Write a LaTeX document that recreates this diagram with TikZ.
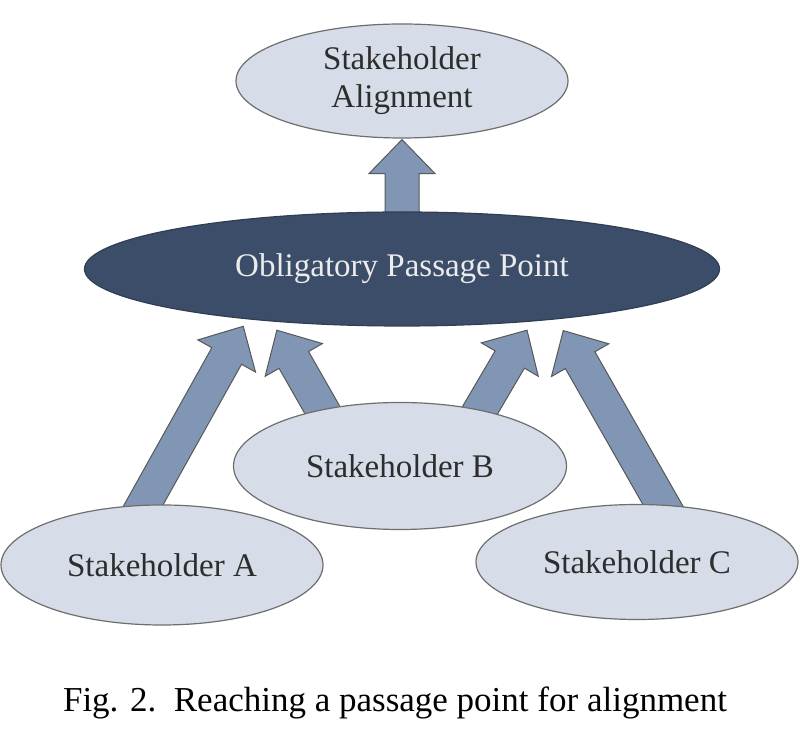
\documentclass[tikz,border=0pt]{standalone}
\usepackage{fontspec}
\setmainfont{Liberation Serif}
\usetikzlibrary{shapes.geometric,calc,backgrounds}
\definecolor{lightfill}{RGB}{214,221,232}
\definecolor{darkfill}{RGB}{59,77,104}
\definecolor{arrowfill}{RGB}{128,150,180}
\definecolor{edgegray}{RGB}{110,110,110}
\definecolor{textgray}{RGB}{45,45,45}
\tikzset{
  ell/.style={ellipse, inner sep=0pt, line width=1.2pt, draw=edgegray,
    font=\fontsize{33}{38}\selectfont, align=center},
  lnode/.style={ell, fill=lightfill, text=textgray},
  dnode/.style={ell, fill=darkfill, draw=darkfill!80!black, text=white!92!black},
  barrow/.style={fill=arrowfill, draw=edgegray!80!black, line width=1pt, line join=miter},
}
\newcommand{\blockarrow}[2]{%
  \draw[barrow] let \p1=(#1), \p2=(#2),
    \n1={atan2(\y2-\y1,\x2-\x1)}, \n2={veclen(\x2-\x1,\y2-\y1)} in
    ($(\p1)+(\n1-90:17pt)$)
    -- ($(\p1)+(\n1:\n2-34pt)+(\n1-90:17pt)$)
    -- ($(\p1)+(\n1:\n2-34pt)+(\n1-90:33pt)$)
    -- (\p2)
    -- ($(\p1)+(\n1:\n2-34pt)+(\n1+90:33pt)$)
    -- ($(\p1)+(\n1:\n2-34pt)+(\n1+90:17pt)$)
    -- ($(\p1)+(\n1+90:17pt)$) -- cycle;}
\begin{document}
\begin{tikzpicture}[x=1pt,y=1pt]
  \useasboundingbox (0,0) rectangle (800,730);

  \node[lnode, minimum width=332pt, minimum height=114pt] (SA) at (402,649) {Stakeholder\\Alignment};
  \node[dnode, minimum width=635pt, minimum height=114pt] (OPP) at (402,461) {Obligatory Passage Point};
  \node[lnode, minimum width=333pt, minimum height=127pt] (B) at (400,264) {Stakeholder B};
  \node[lnode, minimum width=322pt, minimum height=120pt] (A) at (162,165) {Stakeholder A};
  \node[lnode, minimum width=322pt, minimum height=115pt] (C) at (637,168) {Stakeholder C};

  \node[font=\fontsize{35}{40}\selectfont, text=black] (cap) at (395,27)
    {Fig. 2.\ \ Reaching a passage point for alignment};

  \begin{pgfonlayer}{background}
    \fill[white] (0,0) rectangle (800,730);
    \blockarrow{$(OPP.90)!-12pt!(SA.270)$}{$(SA.270)!1pt!(OPP.90)$}
    \blockarrow{$(A.107)!-12pt!(OPP.198)$}{$(OPP.198)!8pt!(A.107)$}
    \blockarrow{$(B.144)!-12pt!(OPP.202.5)$}{$(OPP.202.5)!10pt!(B.144)$}
    \blockarrow{$(B.35)!-12pt!(OPP.338)$}{$(OPP.338)!10pt!(B.35)$}
    \blockarrow{$(C.66)!-12pt!(OPP.342)$}{$(OPP.342)!13pt!(C.66)$}
  \end{pgfonlayer}
\end{tikzpicture}
\end{document}
